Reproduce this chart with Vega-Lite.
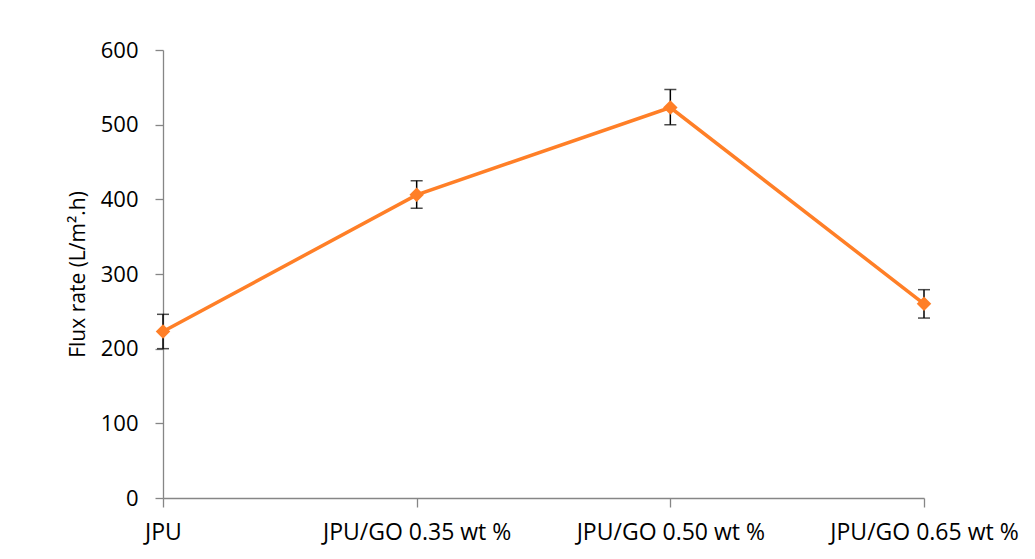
{
  "$schema": "https://vega.github.io/schema/vega-lite/v6.json",
  "autosize": "none",
  "padding": {"left": 163, "top": 50, "right": 111, "bottom": 61},
  "width": 761,
  "height": 448,
  "background": "white",
  "config": {
    "view": {"stroke": null},
    "font": "Open Sans",
    "axis": {
      "labelFont": "Open Sans",
      "titleFont": "Open Sans",
      "labelColor": "#000000",
      "titleColor": "#000000",
      "domainColor": "#868686",
      "tickColor": "#868686",
      "domainWidth": 1.3,
      "tickWidth": 1.3,
      "labelLimit": 0,
      "grid": false
    }
  },
  "data": {
    "values": [
      {"sample": "JPU", "flux": 223, "lo": 200, "hi": 246},
      {"sample": "JPU/GO 0.35 wt %", "flux": 406, "lo": 388, "hi": 425},
      {"sample": "JPU/GO 0.50 wt %", "flux": 523, "lo": 500, "hi": 547},
      {"sample": "JPU/GO 0.65 wt %", "flux": 260, "lo": 241, "hi": 279}
    ]
  },
  "encoding": {
    "x": {
      "field": "sample",
      "type": "ordinal",
      "sort": null,
      "scale": {"type": "point", "padding": 0},
      "axis": {
        "title": null,
        "labelAngle": 0,
        "labelFontSize": 23,
        "labelLimit": 0,
        "labelOverlap": false,
        "tickSize": 9,
        "labelPadding": 14
      }
    }
  },
  "layer": [
    {
      "mark": {"type": "rule", "color": "#000000", "strokeWidth": 1.5},
      "encoding": {
        "y": {"field": "lo", "type": "quantitative"},
        "y2": {"field": "hi"}
      }
    },
    {
      "mark": {"type": "tick", "color": "#000000", "size": 12, "thickness": 1.5},
      "encoding": {"y": {"field": "lo", "type": "quantitative"}}
    },
    {
      "mark": {"type": "tick", "color": "#000000", "size": 12, "thickness": 1.5},
      "encoding": {"y": {"field": "hi", "type": "quantitative"}}
    },
    {
      "mark": {
        "type": "line",
        "color": "#FF7F27",
        "strokeWidth": 3.5,
        "point": {"shape": "diamond", "size": 210, "filled": true, "color": "#FF7F27", "opacity": 1}
      },
      "encoding": {
        "y": {
          "field": "flux",
          "type": "quantitative",
          "scale": {"domain": [0, 600], "nice": false},
          "axis": {
            "title": "Flux rate (L/m².h)",
            "values": [0, 100, 200, 300, 400, 500, 600],
            "labelFontSize": 22,
            "titleFontSize": 21,
            "titleFontWeight": "normal",
            "tickSize": 8,
            "labelPadding": 17,
            "titlePadding": 12
          }
        }
      }
    }
  ]
}
